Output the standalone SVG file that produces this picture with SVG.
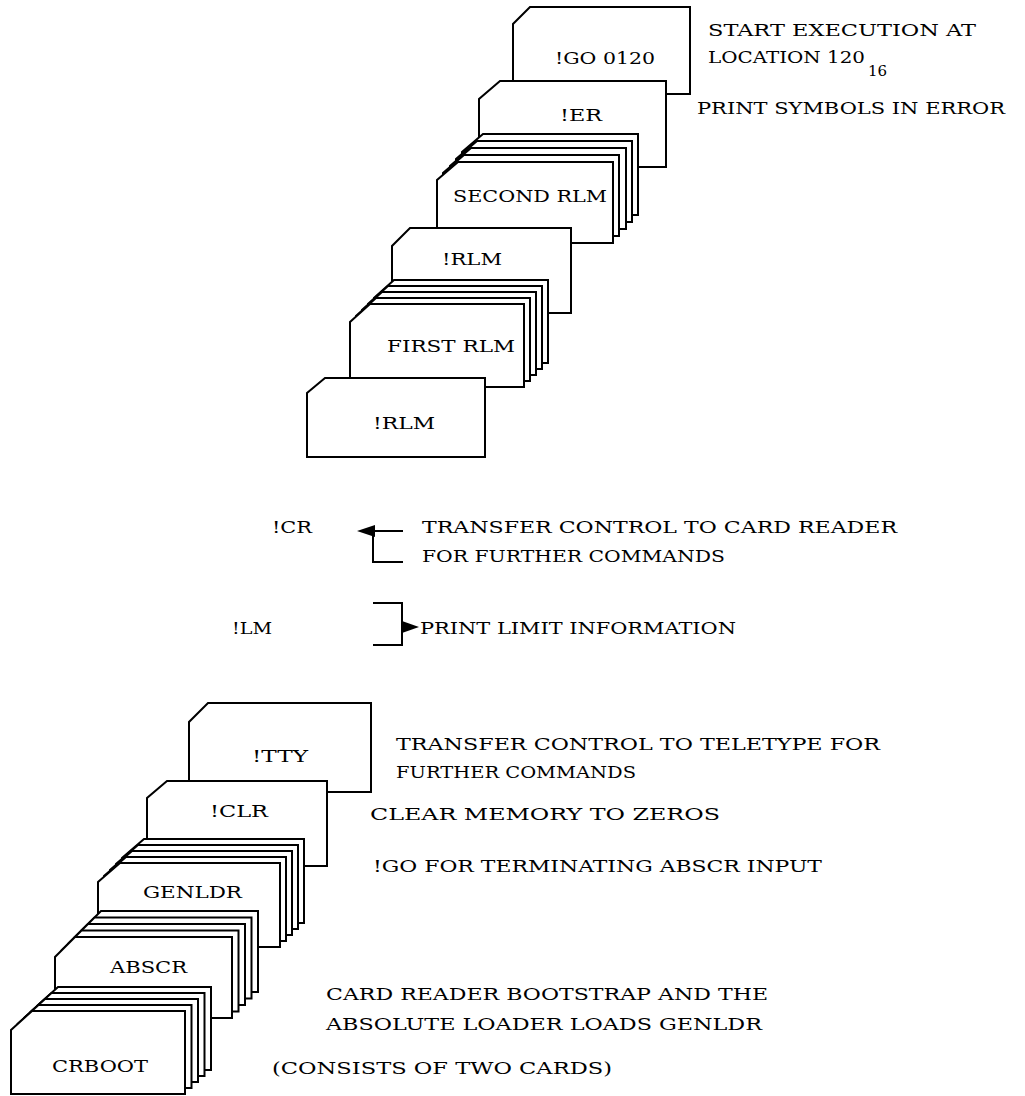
<svg xmlns="http://www.w3.org/2000/svg" width="1025" height="1096" viewBox="0 0 1025 1096">
<style>
.card{fill:#fff;stroke:#000;stroke-width:2;stroke-linejoin:miter}
.t{font-family:"DejaVu Serif","Liberation Serif",serif;font-size:17.5px;fill:#000}
.s{font-family:"DejaVu Serif","Liberation Serif",serif;font-size:15px;fill:#000}
.ln{fill:none;stroke:#000;stroke-width:2}
.ah{fill:#000;stroke:none}
</style>
<rect width="1025" height="1096" fill="#fff"/>

<g id="card-go">
<path class="card" d="M530,7 H690 V94 H513 V24 Z"/>
<text class="t" x="555" y="64" textLength="100" lengthAdjust="spacingAndGlyphs">!GO 0120</text>
</g>
<g id="card-er">
<path class="card" d="M500,81 H666 V167 H479 V99 Z"/>
<text class="t" x="560" y="121" textLength="42" lengthAdjust="spacingAndGlyphs">!ER</text>
</g>
<g id="deck-second-rlm">
<path class="card" transform="translate(25,-28)" d="M458,162 H613 V243 H437 V180 Z"/>
<path class="card" transform="translate(19,-21)" d="M458,162 H613 V243 H437 V180 Z"/>
<path class="card" transform="translate(13,-14)" d="M458,162 H613 V243 H437 V180 Z"/>
<path class="card" transform="translate(6,-7)" d="M458,162 H613 V243 H437 V180 Z"/>
<path class="card" d="M458,162 H613 V243 H437 V180 Z"/>
<text class="t" x="453" y="202" textLength="154" lengthAdjust="spacingAndGlyphs">SECOND RLM</text>
</g>
<g id="card-rlm-2">
<path class="card" d="M410,228 H571 V313 H392 V246 Z"/>
<text class="t" x="442" y="265" textLength="60" lengthAdjust="spacingAndGlyphs">!RLM</text>
</g>
<g id="deck-first-rlm">
<path class="card" transform="translate(24,-24)" d="M370,304 H524 V387 H350 V322 Z"/>
<path class="card" transform="translate(18,-18)" d="M370,304 H524 V387 H350 V322 Z"/>
<path class="card" transform="translate(12,-12)" d="M370,304 H524 V387 H350 V322 Z"/>
<path class="card" transform="translate(6,-6)" d="M370,304 H524 V387 H350 V322 Z"/>
<path class="card" d="M370,304 H524 V387 H350 V322 Z"/>
<text class="t" x="387" y="352" textLength="128" lengthAdjust="spacingAndGlyphs">FIRST RLM</text>
</g>
<g id="card-rlm-1">
<path class="card" d="M325,378 H485 V457 H307 V393 Z"/>
<text class="t" x="373" y="429" textLength="62" lengthAdjust="spacingAndGlyphs">!RLM</text>
</g>

<g id="notes-top">
<text class="t" x="708" y="36" textLength="268" lengthAdjust="spacingAndGlyphs">START EXECUTION AT</text>
<text class="t" x="708" y="63" textLength="157" lengthAdjust="spacingAndGlyphs">LOCATION 120</text>
<text class="s" x="868" y="76">16</text>
<text class="t" x="697" y="114" textLength="308" lengthAdjust="spacingAndGlyphs">PRINT SYMBOLS IN ERROR</text>
</g>

<g id="cmd-cr">
<text class="t" x="272" y="533" textLength="40" lengthAdjust="spacingAndGlyphs">!CR</text>
<text class="t" x="422" y="533" textLength="475" lengthAdjust="spacingAndGlyphs">TRANSFER CONTROL TO CARD READER</text>
<text class="t" x="422" y="562" textLength="303" lengthAdjust="spacingAndGlyphs">FOR FURTHER COMMANDS</text>
</g>
<g id="cmd-lm">
<text class="t" x="232" y="634" textLength="40" lengthAdjust="spacingAndGlyphs">!LM</text>
<text class="t" x="420" y="634" textLength="316" lengthAdjust="spacingAndGlyphs">PRINT LIMIT INFORMATION</text>
</g>

<g id="connectors">
<path class="ln" d="M372,531 H403 M373,531 V562 H403"/>
<path class="ah" d="M357,531 L375,525 L375,537 Z"/>
<path class="ln" d="M373,603 H402 V645 H373"/>
<path class="ah" d="M419,627 L402,621 L402,633 Z"/>
</g>

<g id="card-tty">
<path class="card" d="M208,703 H371 V792 H189 V722 Z"/>
<text class="t" x="252" y="762" textLength="56" lengthAdjust="spacingAndGlyphs">!TTY</text>
</g>
<g id="card-clr">
<path class="card" d="M167,781 H327 V866 H147 V798 Z"/>
<text class="t" x="210" y="817" textLength="58" lengthAdjust="spacingAndGlyphs">!CLR</text>
</g>
<g id="deck-genldr">
<path class="card" transform="translate(24,-24)" d="M120,863 H280 V947 H98 V882 Z"/>
<path class="card" transform="translate(18,-18)" d="M120,863 H280 V947 H98 V882 Z"/>
<path class="card" transform="translate(12,-12)" d="M120,863 H280 V947 H98 V882 Z"/>
<path class="card" transform="translate(6,-6)" d="M120,863 H280 V947 H98 V882 Z"/>
<path class="card" d="M120,863 H280 V947 H98 V882 Z"/>
<text class="t" x="143" y="898" textLength="99" lengthAdjust="spacingAndGlyphs">GENLDR</text>
</g>
<g id="deck-abscr">
<path class="card" transform="translate(26,-26)" d="M75,937 H232 V1018 H55 V957 Z"/>
<path class="card" transform="translate(19.5,-19.5)" d="M75,937 H232 V1018 H55 V957 Z"/>
<path class="card" transform="translate(13,-13)" d="M75,937 H232 V1018 H55 V957 Z"/>
<path class="card" transform="translate(6.5,-6.5)" d="M75,937 H232 V1018 H55 V957 Z"/>
<path class="card" d="M75,937 H232 V1018 H55 V957 Z"/>
<text class="t" x="110" y="973" textLength="77" lengthAdjust="spacingAndGlyphs">ABSCR</text>
</g>
<g id="deck-crboot">
<path class="card" transform="translate(26,-24)" d="M32,1011 H185 V1094 H11 V1030 Z"/>
<path class="card" transform="translate(19.5,-18)" d="M32,1011 H185 V1094 H11 V1030 Z"/>
<path class="card" transform="translate(13,-12)" d="M32,1011 H185 V1094 H11 V1030 Z"/>
<path class="card" transform="translate(6.5,-6)" d="M32,1011 H185 V1094 H11 V1030 Z"/>
<path class="card" d="M32,1011 H185 V1094 H11 V1030 Z"/>
<text class="t" x="52" y="1072" textLength="96" lengthAdjust="spacingAndGlyphs">CRBOOT</text>
</g>

<g id="notes-bottom">
<text class="t" x="396" y="750" textLength="484" lengthAdjust="spacingAndGlyphs">TRANSFER CONTROL TO TELETYPE FOR</text>
<text class="t" x="396" y="778" textLength="240" lengthAdjust="spacingAndGlyphs">FURTHER COMMANDS</text>
<text class="t" x="370" y="820" textLength="350" lengthAdjust="spacingAndGlyphs">CLEAR MEMORY TO ZEROS</text>
<text class="t" x="373" y="872" textLength="449" lengthAdjust="spacingAndGlyphs">!GO FOR TERMINATING ABSCR INPUT</text>
<text class="t" x="326" y="1000" textLength="442" lengthAdjust="spacingAndGlyphs">CARD READER BOOTSTRAP AND THE</text>
<text class="t" x="326" y="1030" textLength="436" lengthAdjust="spacingAndGlyphs">ABSOLUTE LOADER LOADS GENLDR</text>
<text class="t" x="272" y="1074" textLength="340" lengthAdjust="spacingAndGlyphs">(CONSISTS OF TWO CARDS)</text>
</g>
</svg>
